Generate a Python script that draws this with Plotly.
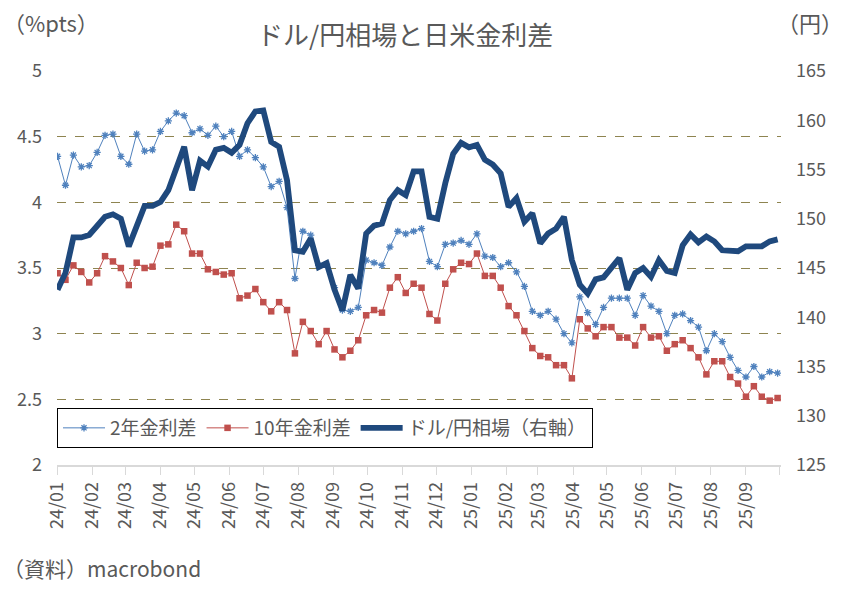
import pandas as pd
import plotly.graph_objects as go

# ---- data (weekly) ----
dates = pd.date_range("2024-01-01", periods=92, freq="7D")

spread_2y = [4.35, 4.13, 4.36, 4.27, 4.28, 4.38, 4.51, 4.52, 4.35, 4.29,
             4.52, 4.39, 4.40, 4.54, 4.62, 4.68, 4.66, 4.53, 4.56, 4.51,
             4.58, 4.50, 4.54, 4.35, 4.40, 4.34, 4.27, 4.12, 4.16, 3.96,
             3.42, 3.78, 3.75, 3.52, 3.53, 3.35, 3.18, 3.17, 3.20, 3.56,
             3.54, 3.52, 3.66, 3.78, 3.76, 3.78, 3.80, 3.55, 3.51, 3.68,
             3.69, 3.71, 3.68, 3.76, 3.59, 3.58, 3.51, 3.54, 3.47, 3.36,
             3.17, 3.14, 3.17, 3.11, 3.00, 2.93, 3.28, 3.16, 3.07, 3.20,
             3.27, 3.27, 3.27, 3.14, 3.29, 3.21, 3.17, 3.00, 3.14, 3.15,
             3.10, 3.05, 2.87, 3.00, 2.94, 2.82, 2.72, 2.67, 2.75, 2.67,
             2.71, 2.70]

spread_10y = [3.46, 3.41, 3.52, 3.47, 3.39, 3.46, 3.59, 3.55, 3.50, 3.37,
              3.54, 3.50, 3.51, 3.67, 3.68, 3.83, 3.78, 3.61, 3.61, 3.49,
              3.47, 3.45, 3.46, 3.27, 3.29, 3.34, 3.24, 3.17, 3.24, 3.18,
              2.85, 3.09, 3.02, 2.92, 3.02, 2.88, 2.82, 2.87, 2.95, 3.14,
              3.18, 3.16, 3.35, 3.43, 3.31, 3.38, 3.35, 3.15, 3.10, 3.38,
              3.49, 3.54, 3.53, 3.61, 3.44, 3.44, 3.35, 3.21, 3.14, 3.02,
              2.89, 2.83, 2.82, 2.76, 2.76, 2.66, 3.11, 3.04, 2.98, 3.05,
              3.05, 2.97, 2.97, 2.91, 3.05, 2.97, 2.98, 2.87, 2.92, 2.95,
              2.89, 2.82, 2.69, 2.79, 2.79, 2.67, 2.62, 2.52, 2.60, 2.52,
              2.49, 2.51]

usdjpy = [142.8, 144.5, 148.1, 148.1, 148.35, 149.2, 150.2, 150.45, 150.0, 147.2,
          149.4, 151.3, 151.3, 151.7, 152.9, 155.0, 157.3, 152.9, 155.9, 155.3,
          157.0, 157.2, 156.7, 157.5, 159.7, 160.9, 161.0, 157.8, 157.3, 153.9,
          146.8, 146.65, 148.0, 145.1, 145.5, 142.8, 140.7, 144.3, 142.9, 148.5,
          149.3, 149.5, 151.9, 152.9, 152.4, 154.8, 154.8, 150.2, 150.0, 153.6,
          156.6, 157.7, 157.25, 157.5, 156.0, 155.5, 154.6, 151.2, 152.1, 149.7,
          150.55, 147.5, 148.5, 149.0, 150.2, 145.8, 143.3, 142.4, 143.85, 144.05,
          145.1, 146.0, 142.8, 144.5, 145.0, 144.1, 145.8, 144.7, 144.5, 147.3,
          148.4, 147.6, 148.2, 147.7, 146.8, 146.7, 146.7, 147.2, 147.2, 147.2,
          147.7, 147.9]

tick_dates = pd.date_range("2024-01-01", "2025-10-01", freq="MS")
tick_labels = [d.strftime("%y/%m") for d in tick_dates[:-1]] + [""]

names = ["2年金利差", "10年金利差", "ドル/円相場（右軸）"]

# ---- styling ----
FONT = "Noto Sans CJK JP"
GRAY = "#595959"
L, R, T, B = 57, 67, 71, 129
W, H = 848, 594
PW, PH = W - L - R, H - T - B

def px_x(x):
    return (x - L) / PW

def px_y(y):
    return (H - B - y) / PH

fig = go.Figure()
fig.add_trace(go.Scatter(
    x=dates, y=spread_2y, name=names[0], mode="lines+markers",
    line=dict(color="#4F81BD", width=1),
    marker=dict(symbol="asterisk-open", size=6, color="#4F81BD",
                line=dict(color="#4F81BD", width=1.3))))
fig.add_trace(go.Scatter(
    x=dates, y=spread_10y, name=names[1], mode="lines+markers",
    line=dict(color="#C0504D", width=1),
    marker=dict(symbol="square", size=6.5, color="#C0504D")))
fig.add_trace(go.Scatter(
    x=dates, y=usdjpy, name=names[2], mode="lines", yaxis="y2",
    line=dict(color="#1F497D", width=5.8)))

fig.update_layout(
    width=W, height=H, autosize=False,
    margin=dict(l=L, r=R, t=T, b=B, pad=0),
    paper_bgcolor="white", plot_bgcolor="white",
    font=dict(family=FONT, color=GRAY, size=18),
    showlegend=True,
    legend=dict(orientation="h", x=0, xanchor="left", y=px_y(408), yanchor="top",
                bordercolor="black", borderwidth=1, bgcolor="white",
                font=dict(size=19, color=GRAY, family=FONT), itemwidth=42),
    xaxis=dict(type="date", range=["2023-12-31 12:00", "2025-10-02"],
               tickvals=tick_dates, ticktext=tick_labels, tickangle=-90,
               ticks="outside", ticklen=8, tickcolor="#D9D9D9",
               showline=True, linecolor="#D9D9D9", linewidth=1.5,
               showgrid=False, zeroline=False,
               tickfont=dict(size=18, color=GRAY, family=FONT)),
    yaxis=dict(range=[2, 5], dtick=0.5, showgrid=True, gridcolor="#8E8450",
               griddash="dash", gridwidth=1, zeroline=False, showline=False,
               ticks="", ticklabelstandoff=14,
               tickfont=dict(size=18, color=GRAY, family=FONT)),
    yaxis2=dict(range=[125, 165], dtick=5, overlaying="y", side="right",
                showgrid=False, zeroline=False, showline=False, ticks="",
                ticklabelstandoff=14,
                tickfont=dict(size=18, color=GRAY, family=FONT)),
    annotations=[
        dict(text="ドル/円相場と日米金利差", x=px_x(405), y=px_y(33), xref="paper", yref="paper",
             xanchor="center", yanchor="middle", showarrow=False,
             font=dict(size=26, color=GRAY, family=FONT)),
        dict(text="（%pts）", x=px_x(1), y=px_y(22), xref="paper", yref="paper",
             xanchor="left", yanchor="middle", showarrow=False,
             font=dict(size=22, color=GRAY, family=FONT)),
        dict(text="（円）", x=px_x(845), y=px_y(22), xref="paper", yref="paper",
             xanchor="right", yanchor="middle", showarrow=False,
             font=dict(size=22, color=GRAY, family=FONT)),
        dict(text="（資料）macrobond", x=px_x(1), y=px_y(568), xref="paper", yref="paper",
             xanchor="left", yanchor="middle", showarrow=False,
             font=dict(size=21, color=GRAY, family=FONT)),
    ],
)

fig.write_html("out.html", config={"displayModeBar": False},
               post_script="document.body.style.margin='0';")
